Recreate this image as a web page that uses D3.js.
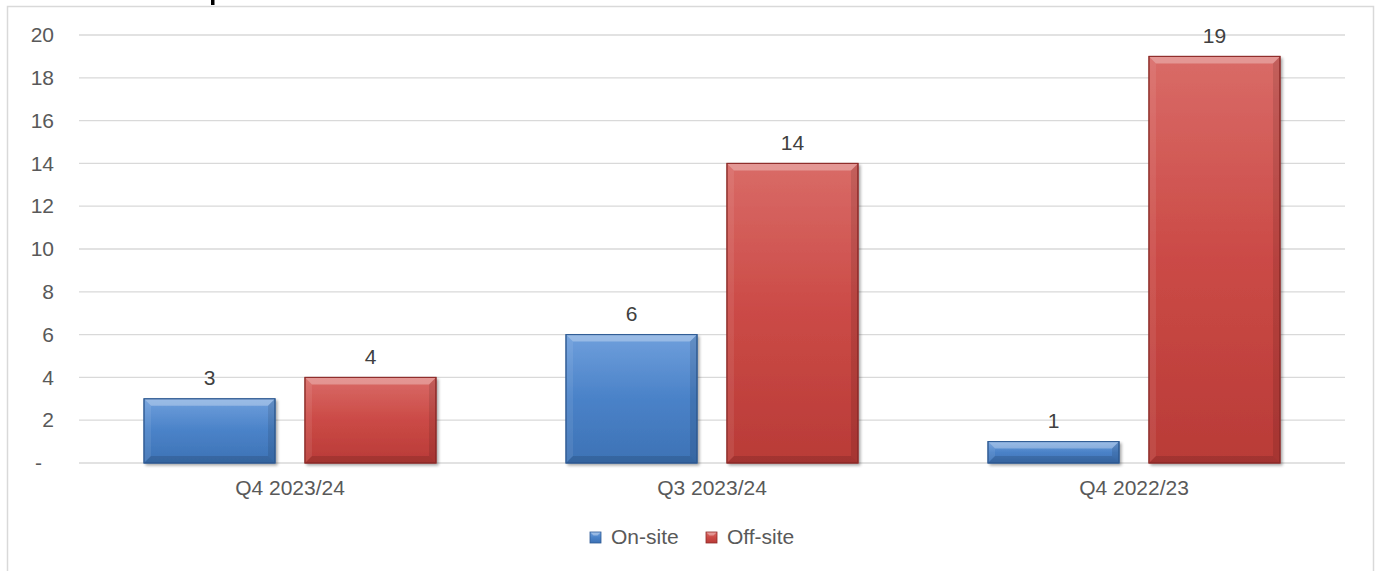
<!DOCTYPE html>
<html><head><meta charset="utf-8">
<script src="https://cdn.jsdelivr.net/npm/d3@7"></script>
<style>body{margin:0;background:#fff;}svg{display:block;font-family:Arial,"Liberation Sans",sans-serif;}</style>
</head><body><svg id="c" width="1380" height="571"></svg>
<script>
const categories = ["Q4 2023/24","Q3 2023/24","Q4 2022/23"];
const seriesNames = ["On-site","Off-site"];
const onSite = [3,6,1];
const offSite = [4,14,19];
const yTicks = [0,2,4,6,8,10,12,14,16,18,20];
const tickLabels = ["-","2","4","6","8","10","12","14","16","18","20"];

const FS = 21;
const svg = d3.select("#c");
const defs = svg.append("defs");
const colors = {
  "On-site": {top:"#6f9fdc", mid:"#4a82c8", bot:"#3d72b5", edge:"#2f5b94"},
  "Off-site": {top:"#d96b67", mid:"#cb4a46", bot:"#b93b37", edge:"#8e2b28"}
};
seriesNames.forEach((s,i)=>{
  const g = defs.append("linearGradient").attr("id","g"+i).attr("x1",0).attr("y1",0).attr("x2",0).attr("y2",1);
  g.append("stop").attr("offset","0%").attr("stop-color",colors[s].top);
  g.append("stop").attr("offset","50%").attr("stop-color",colors[s].mid);
  g.append("stop").attr("offset","100%").attr("stop-color",colors[s].bot);
});
const f = defs.append("filter").attr("id","sh").attr("x","-10%").attr("y","-10%").attr("width","130%").attr("height","130%");
f.append("feGaussianBlur").attr("in","SourceAlpha").attr("stdDeviation",1.5);
f.append("feOffset").attr("dx",2).attr("dy",2).attr("result","o");
f.append("feComponentTransfer").append("feFuncA").attr("type","linear").attr("slope",0.35);
const m = f.append("feMerge"); m.append("feMergeNode"); m.append("feMergeNode").attr("in","SourceGraphic");

// chart border
svg.append("rect").attr("x",7.5).attr("y",6.5).attr("width",1366).attr("height",600)
  .attr("fill","none").attr("stroke","#d9d9d9").attr("stroke-width",1.5);
// clipped title fragment (descender of title letter above chart area)
svg.append("rect").attr("x",211).attr("y",0).attr("width",3.5).attr("height",5).attr("fill","#000");

const left = 79, right = 1345;
const y = d3.scaleLinear().domain([0,20]).range([463,35]);
const x0 = d3.scaleBand().domain(categories).range([left,right]).padding(0);
const x1 = d3.scaleBand().domain(seriesNames).range([65, 357]).paddingInner(0.186).paddingOuter(0);

// gridlines
svg.append("g").selectAll("line").data(yTicks).join("line")
  .attr("x1",left).attr("x2",right).attr("y1",d=>y(d)).attr("y2",d=>y(d))
  .attr("stroke","#d9d9d9").attr("stroke-width",1.3);

// y labels
const yAxis = d3.axisLeft(y).tickValues(yTicks).tickFormat((d,i)=>tickLabels[i]).tickSize(0).tickPadding(0);
const ya = svg.append("g").attr("transform","translate(54,0)").call(yAxis);
ya.select(".domain").remove();
ya.selectAll("text").attr("font-size",FS).attr("fill","#595959").attr("font-family","Arial,'Liberation Sans',sans-serif");
ya.selectAll(".tick").filter(d=>d===0).select("text").attr("dx",-12);

// bars
const data = categories.map((c,i)=>({cat:c, vals:[{s:"On-site",v:onSite[i]},{s:"Off-site",v:offSite[i]}]}));
const groups = svg.append("g").selectAll("g").data(data).join("g")
  .attr("transform",d=>`translate(${x0(d.cat)},0)`);
groups.each(function(d){
  const g = d3.select(this);
  d.vals.forEach((e,i)=>{
    const bx = x1(e.s), bw = x1.bandwidth(), by = y(e.v), bh = y(0)-y(e.v);
    const b = Math.min(7, bh/2);
    const bg = g.append("g");
    bg.append("rect").attr("x",bx).attr("y",by).attr("width",bw).attr("height",bh)
      .attr("fill",`url(#g${i})`).attr("stroke",colors[e.s].edge).attr("stroke-width",1).attr("filter","url(#sh)");
    bg.append("path").attr("d",`M${bx},${by}L${bx+bw},${by}L${bx+bw-b},${by+b}L${bx+b},${by+b}Z`).attr("fill","#fff").attr("opacity",0.3);
    bg.append("path").attr("d",`M${bx},${by}L${bx+b},${by+b}L${bx+b},${by+bh-b}L${bx},${by+bh}Z`).attr("fill","#fff").attr("opacity",0.08);
    bg.append("path").attr("d",`M${bx+bw},${by}L${bx+bw-b},${by+b}L${bx+bw-b},${by+bh-b}L${bx+bw},${by+bh}Z`).attr("fill","#000").attr("opacity",0.1);
    bg.append("path").attr("d",`M${bx},${by+bh}L${bx+b},${by+bh-b}L${bx+bw-b},${by+bh-b}L${bx+bw},${by+bh}Z`).attr("fill","#000").attr("opacity",0.12);
    bg.append("rect").attr("x",bx).attr("y",by).attr("width",bw).attr("height",bh)
      .attr("fill","none").attr("stroke",colors[e.s].edge).attr("stroke-width",1);
    g.append("text").attr("x",bx+bw/2).attr("y",by-21).attr("dy","0.35em").attr("text-anchor","middle")
      .attr("font-size",FS).attr("fill","#404040").text(e.v);
  });
});

// x labels
const xAxis = d3.axisBottom(x0).tickSize(0).tickPadding(0);
const xa = svg.append("g").attr("transform","translate(0,488)").call(xAxis);
xa.select(".domain").remove();
xa.selectAll("text").attr("font-size",FS).attr("fill","#595959").attr("font-family","Arial,'Liberation Sans',sans-serif").attr("dy","0.35em");

// legend
const legX = [590, 706];
const leg = svg.append("g").selectAll("g").data(seriesNames).join("g")
  .attr("transform",(d,i)=>`translate(${legX[i]},532)`);
leg.append("rect").attr("width",11).attr("height",11).attr("fill",(d,i)=>`url(#g${i})`).attr("stroke",d=>colors[d].edge).attr("stroke-width",0.8);
leg.append("path").attr("d","M0.5,0.5L10.5,0.5L7.5,3.5L3.5,3.5Z").attr("fill","#fff").attr("opacity",0.35);
leg.append("text").attr("x",21).attr("y",5).attr("dy","0.35em").attr("font-size",FS).attr("fill","#595959").text(d=>d);
</script></body></html>
